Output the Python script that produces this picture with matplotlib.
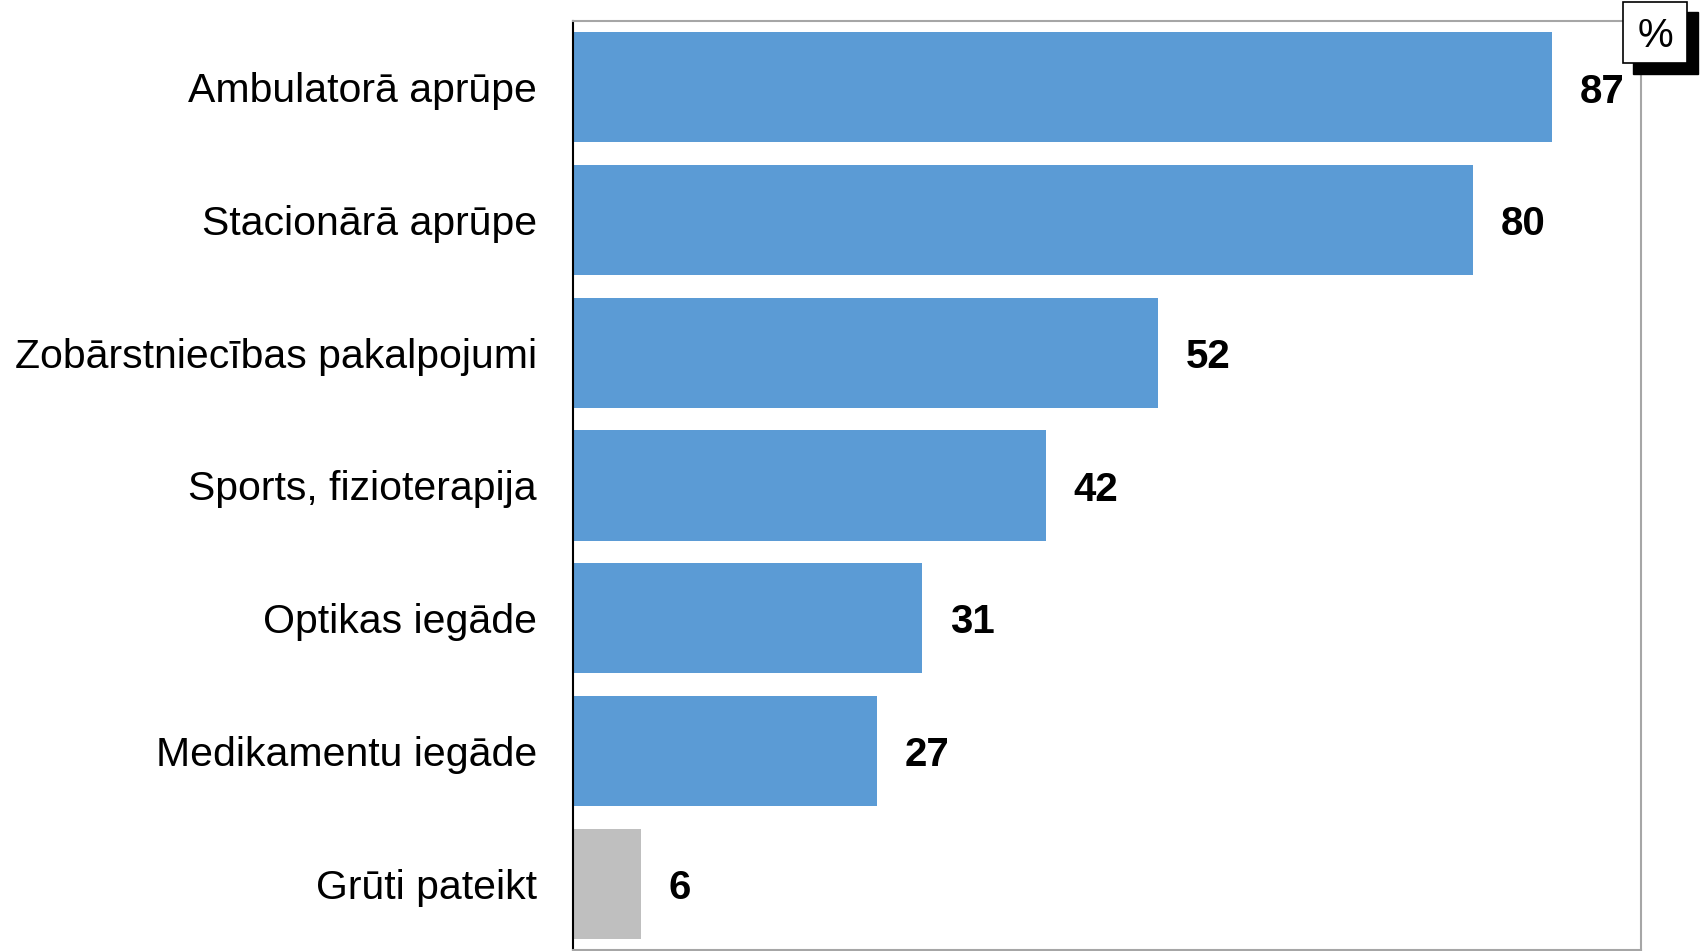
import matplotlib
matplotlib.use("Agg")
import matplotlib.pyplot as plt
from matplotlib.patches import Rectangle

plt.rcParams['font.family'] = ['Liberation Sans', 'DejaVu Sans']

categories = ["Ambulatorā aprūpe", "Stacionārā aprūpe", "Zobārstniecības pakalpojumi",
              "Sports, fizioterapija", "Optikas iegāde", "Medikamentu iegāde", "Grūti pateikt"]
values = [87, 80, 52, 42, 31, 27, 6]
colors = ["#5B9BD5"] * 6 + ["#BFBFBF"]

W, H = 1700, 951
fig = plt.figure(figsize=(W / 100, H / 100), dpi=100)
ax = fig.add_axes([573 / W, 1 - 950 / H, (1641 - 573) / W, (950 - 21) / H])

y = list(range(len(categories)))
ax.barh(y, values, height=0.83, color=colors)
ax.set_xlim(0, 94.9)
ax.set_ylim(len(categories) - 0.5, -0.5)
ax.set_xticks([])
ax.set_yticks(y)
ax.set_yticklabels(categories, fontsize=29.5)
ax.tick_params(axis='y', length=0, pad=26)

for yi, v in zip(y, values):
    ax.annotate(str(v), (v, yi), xytext=(20, -3), textcoords='offset points',
                ha='left', va='center', fontsize=29, fontweight='bold')

for s in ['top', 'right', 'bottom']:
    ax.spines[s].set_color('#A6A6A6')
    ax.spines[s].set_linewidth(1.5)
ax.spines['left'].set_color('black')
ax.spines['left'].set_linewidth(1.5)

# % box with shadow
fig.patches.append(Rectangle((1633 / W, 1 - 74 / H), 65 / W, 62 / H, transform=fig.transFigure,
                             facecolor='black', edgecolor='black', zorder=5))
fig.patches.append(Rectangle((1623 / W, 1 - 63 / H), 64 / W, 61 / H, transform=fig.transFigure,
                             facecolor='white', edgecolor='black', linewidth=1.2, zorder=6))
fig.text(1655 / W, 1 - 36 / H, "%", ha='center', va='center', fontsize=29, zorder=7)

fig.savefig("out.png", dpi=100)
